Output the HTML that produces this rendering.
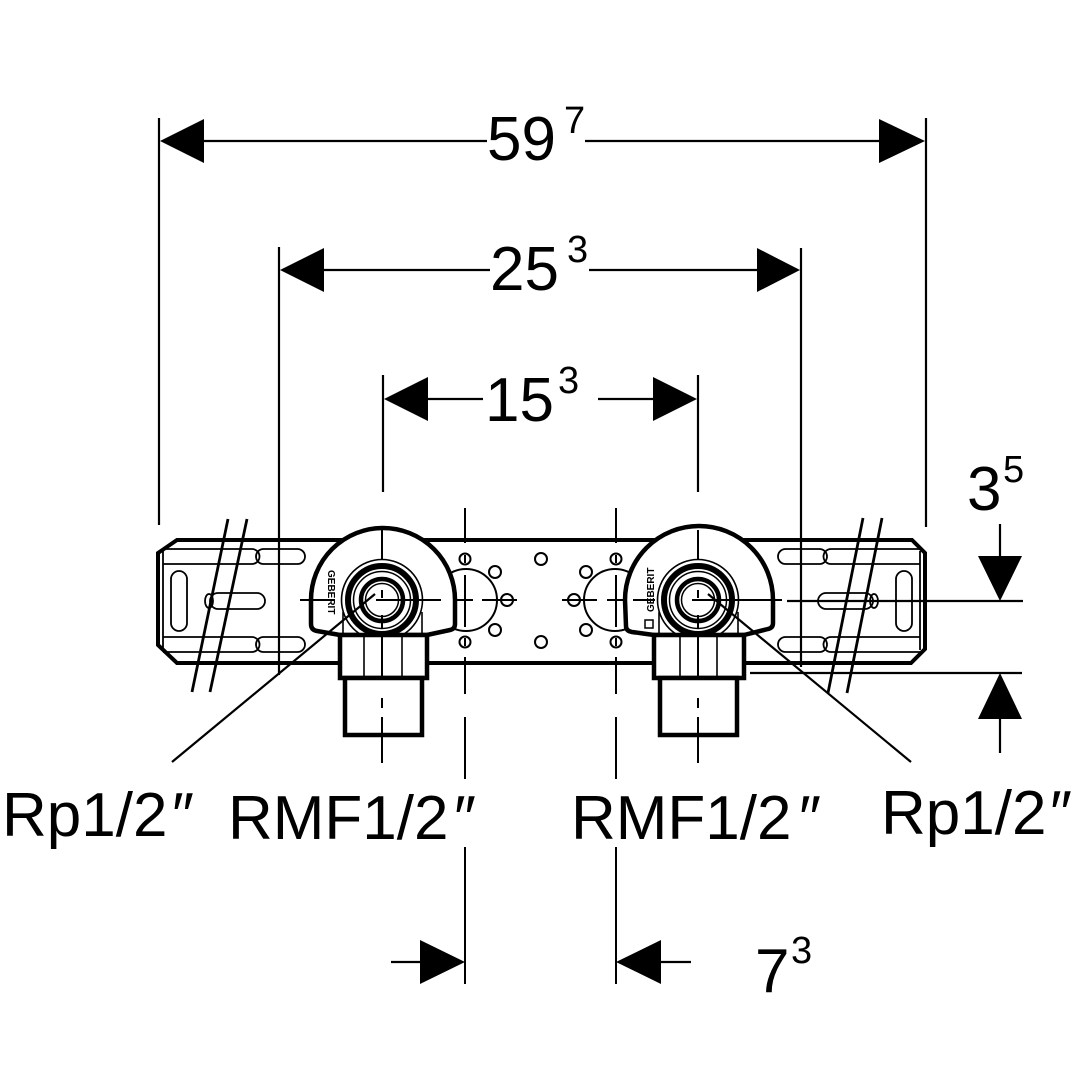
<!DOCTYPE html>
<html><head><meta charset="utf-8"><style>
html,body{margin:0;padding:0;background:#fff;}
svg{display:block;}
text{font-family:"Liberation Sans","DejaVu Sans",sans-serif;fill:#000;}
</style></head><body>
<svg width="1080" height="1080" viewBox="0 0 1080 1080" xmlns="http://www.w3.org/2000/svg">
<rect width="1080" height="1080" fill="#fff"/>

<!-- Plate -->
<polygon points="177,540 912,540 925,553 925,649 911,663 177,663 158,645 158,553" fill="#fff" stroke="#000" stroke-width="4" stroke-linejoin="miter"/>

<!-- Left plate inner features -->
<g fill="none" stroke="#000" stroke-width="1.8">
  <line x1="163" y1="551" x2="163" y2="650"/>
  <path d="M163 549 H252 A7.5 7.5 0 0 1 252 564 H163"/>
  <rect x="256" y="549" width="49" height="15" rx="7.5"/>
  <path d="M163 637 H252 A7.5 7.5 0 0 1 252 652 H163"/>
  <rect x="256" y="637" width="49" height="15" rx="7.5"/>
  <rect x="171" y="571" width="16" height="60" rx="8"/>
  <rect x="210" y="593" width="55" height="16" rx="8"/>
  <ellipse cx="209" cy="601" rx="4" ry="7"/>
</g>
<!-- Right plate inner features (mirrored) -->
<g fill="none" stroke="#000" stroke-width="1.8" transform="translate(1083,0) scale(-1,1)">
  <line x1="163" y1="551" x2="163" y2="650"/>
  <path d="M163 549 H252 A7.5 7.5 0 0 1 252 564 H163"/>
  <rect x="256" y="549" width="49" height="15" rx="7.5"/>
  <path d="M163 637 H252 A7.5 7.5 0 0 1 252 652 H163"/>
  <rect x="256" y="637" width="49" height="15" rx="7.5"/>
  <rect x="171" y="571" width="16" height="60" rx="8"/>
  <rect x="210" y="593" width="55" height="16" rx="8"/>
  <ellipse cx="209" cy="601" rx="4" ry="7"/>
</g>

<!-- Center mounting features -->
<g fill="none" stroke="#000" stroke-width="2">
  <circle cx="466" cy="600" r="31"/>
  <circle cx="615" cy="600" r="31"/>
  <circle cx="495" cy="572" r="6"/>
  <circle cx="495" cy="630" r="6"/>
  <circle cx="507" cy="600" r="6"/>
  <circle cx="541" cy="559" r="6"/>
  <circle cx="541" cy="642" r="6"/>
  <circle cx="586" cy="572" r="6"/>
  <circle cx="586" cy="630" r="6"/>
  <circle cx="574" cy="600" r="6"/>
  <circle cx="465" cy="559" r="5.5"/>
  <circle cx="465" cy="642" r="5.5"/>
  <circle cx="616" cy="559" r="5.5"/>
  <circle cx="616" cy="642" r="5.5"/>
  <line x1="465" y1="555" x2="465" y2="563"/>
  <line x1="465" y1="638" x2="465" y2="646"/>
  <line x1="616" y1="555" x2="616" y2="563"/>
  <line x1="616" y1="638" x2="616" y2="646"/>
  <line x1="455" y1="600" x2="473" y2="600"/>
  <line x1="482" y1="600" x2="517" y2="600"/>
  <line x1="562" y1="600" x2="597" y2="600"/>
  <line x1="607" y1="600" x2="625" y2="600"/>
  <line x1="465" y1="508" x2="465" y2="543"/>
  <line x1="465" y1="575" x2="465" y2="627"/>
  <line x1="465" y1="657" x2="465" y2="694"/>
  <line x1="465" y1="717" x2="465" y2="779"/>
  <line x1="465" y1="847" x2="465" y2="984"/>
  <line x1="616" y1="508" x2="616" y2="543"/>
  <line x1="616" y1="575" x2="616" y2="627"/>
  <line x1="616" y1="657" x2="616" y2="694"/>
  <line x1="616" y1="717" x2="616" y2="779"/>
  <line x1="616" y1="847" x2="616" y2="984"/>
</g>

<!-- Extension & dimension lines -->
<g stroke="#000" stroke-width="2.2" fill="none">
  <line x1="159" y1="118" x2="159" y2="525"/>
  <line x1="926" y1="118" x2="926" y2="527"/>
  <line x1="279" y1="247" x2="279" y2="675"/>
  <line x1="801" y1="248" x2="801" y2="667"/>
  <line x1="383" y1="375" x2="383" y2="492"/>
  <line x1="698" y1="375" x2="698" y2="492"/>
  <line x1="190" y1="141" x2="487" y2="141"/>
  <line x1="585" y1="141" x2="895" y2="141"/>
  <line x1="310" y1="270" x2="490" y2="270"/>
  <line x1="589" y1="270" x2="770" y2="270"/>
  <line x1="410" y1="399" x2="483" y2="399"/>
  <line x1="598" y1="399" x2="670" y2="399"/>
  <line x1="391" y1="962" x2="430" y2="962"/>
  <line x1="650" y1="962" x2="691" y2="962"/>
  <line x1="787" y1="601" x2="1023" y2="601"/>
  <line x1="750" y1="673" x2="1022" y2="673"/>
  <line x1="1000" y1="524" x2="1000" y2="570"/>
  <line x1="1000" y1="705" x2="1000" y2="753"/>
</g>

<!-- Arrowheads -->
<g fill="#000" stroke="none">
  <polygon points="160,141 204,119 204,163"/>
  <polygon points="925,141 879,119 879,163"/>
  <polygon points="280,270 324,248 324,292"/>
  <polygon points="800,270 757,248 757,292"/>
  <polygon points="384,399 428,377 428,421"/>
  <polygon points="697,399 653,377 653,421"/>
  <polygon points="465,962 420,940 420,984"/>
  <polygon points="616,962 661,940 661,984"/>
  <polygon points="1000,601 978,556 1022,556"/>
  <polygon points="1000,673 978,719 1022,719"/>
</g>

<!-- Break marks -->
<g stroke="#000" stroke-width="2.8">
  <line x1="228" y1="519" x2="192" y2="692"/>
  <line x1="247" y1="519" x2="210" y2="692"/>
  <line x1="863" y1="518" x2="828" y2="693"/>
  <line x1="882" y1="518" x2="847" y2="693"/>
</g>

<!-- Left fitting -->
<path d="M311 600 A72 72 0 0 1 455 600 L455 624 Q455 629 450 630 L427 635 L340 635 L317 631 Q311 630 311 624 Z" fill="#fff" stroke="#000" stroke-width="4.5" stroke-linejoin="round"/>
<g fill="none" stroke="#000">
  <line x1="343" y1="612" x2="343" y2="636" stroke-width="1.6"/>
  <line x1="422" y1="612" x2="422" y2="636" stroke-width="1.6"/>
  <circle cx="382" cy="600" r="40.5" fill="#fff" stroke-width="1.6"/>
  <circle cx="382" cy="600" r="34" stroke-width="6"/>
  <circle cx="382" cy="600" r="28.5" stroke-width="1.5"/>
  <circle cx="382" cy="600" r="21" stroke-width="4.5"/>
  <circle cx="382" cy="600" r="16.5" stroke-width="1.5"/>
</g>
<rect x="340" y="635" width="87" height="43" fill="#fff" stroke="#000" stroke-width="4.5"/>
<rect x="345" y="678" width="77" height="57" fill="#fff" stroke="#000" stroke-width="4.5"/>
<g stroke="#000" stroke-width="1.6">
  <line x1="364" y1="637" x2="364" y2="676"/>
  <line x1="402" y1="637" x2="402" y2="676"/>
</g>
<g stroke="#000" stroke-width="2">
  <line x1="382" y1="637" x2="382" y2="676"/>
  <line x1="382" y1="698" x2="382" y2="708"/>
  <line x1="382" y1="717" x2="382" y2="763"/>
  <line x1="382" y1="530" x2="382" y2="560"/>
  <line x1="382" y1="590" x2="382" y2="598"/>
  <line x1="382" y1="615" x2="382" y2="628"/>
  <line x1="300" y1="600" x2="334" y2="600"/>
  <line x1="376" y1="600" x2="441" y2="600"/>
</g>
<text x="0" y="0" font-size="10" font-weight="bold" transform="translate(328,570) rotate(90)">GEBERIT</text>

<!-- Right fitting -->
<path d="M625 600 A74 74 0 0 1 773 600 L773 623 Q773 628 768 629 L744 635 L654 635 L632 632 Q626 631 626 626 Z" fill="#fff" stroke="#000" stroke-width="4.5" stroke-linejoin="round"/>
<g fill="none" stroke="#000">
  <line x1="659" y1="612" x2="659" y2="636" stroke-width="1.6"/>
  <line x1="738" y1="612" x2="738" y2="636" stroke-width="1.6"/>
  <circle cx="698" cy="600" r="40.5" fill="#fff" stroke-width="1.6"/>
  <circle cx="698" cy="600" r="34" stroke-width="6"/>
  <circle cx="698" cy="600" r="28.5" stroke-width="1.5"/>
  <circle cx="698" cy="600" r="21" stroke-width="4.5"/>
  <circle cx="698" cy="600" r="16.5" stroke-width="1.5"/>
</g>
<rect x="654" y="635" width="90" height="43" fill="#fff" stroke="#000" stroke-width="4.5"/>
<rect x="660" y="678" width="77" height="57" fill="#fff" stroke="#000" stroke-width="4.5"/>
<g stroke="#000" stroke-width="1.6">
  <line x1="680" y1="637" x2="680" y2="676"/>
  <line x1="717" y1="637" x2="717" y2="676"/>
</g>
<g stroke="#000" stroke-width="2">
  <line x1="698" y1="637" x2="698" y2="676"/>
  <line x1="698" y1="698" x2="698" y2="708"/>
  <line x1="698" y1="717" x2="698" y2="763"/>
  <line x1="698" y1="530" x2="698" y2="560"/>
  <line x1="698" y1="590" x2="698" y2="598"/>
  <line x1="698" y1="615" x2="698" y2="628"/>
  <line x1="633" y1="600" x2="655" y2="600"/>
  <line x1="692" y1="600" x2="782" y2="600"/>
</g>
<text x="0" y="0" font-size="10" font-weight="bold" transform="translate(654,612) rotate(-90)">GEBERIT</text>
<rect x="645" y="620" width="8" height="8" fill="none" stroke="#000" stroke-width="1.5"/>

<!-- Leaders -->
<g stroke="#000" stroke-width="2.2">
  <line x1="172" y1="762" x2="375" y2="594"/>
  <line x1="911" y1="762" x2="708" y2="594"/>
</g>

<!-- Dimension text -->
<text x="487" y="160" font-size="62">59</text>
<text x="564" y="133" font-size="38">7</text>
<text x="490" y="290" font-size="62">25</text>
<text x="567" y="262" font-size="38">3</text>
<text x="485" y="421" font-size="62">15</text>
<text x="558" y="393" font-size="38">3</text>
<text x="967" y="510" font-size="62">3</text>
<text x="1003" y="482" font-size="38">5</text>
<text x="755" y="992" font-size="62">7</text>
<text x="791" y="963" font-size="38">3</text>

<!-- Labels -->
<text x="2" y="836" font-size="62">Rp1/2</text>
<text x="172" y="836" font-size="62">″</text>
<text x="228" y="839" font-size="62">RMF1/2</text>
<text x="454" y="839" font-size="62">″</text>
<text x="571" y="839" font-size="62">RMF1/2</text>
<text x="799" y="839" font-size="62">″</text>
<text x="881" y="834" font-size="62">Rp1/2</text>
<text x="1050" y="834" font-size="62">″</text>
</svg>
</body></html>
